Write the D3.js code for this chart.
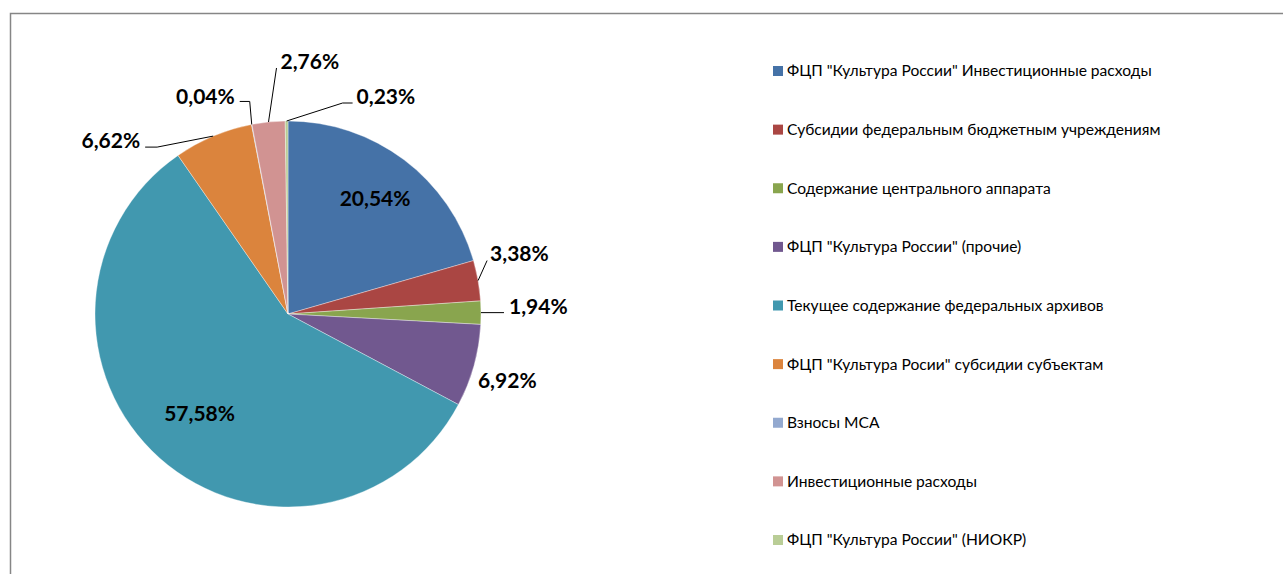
<!DOCTYPE html>
<html>
<head>
<meta charset="utf-8">
<script src="https://cdn.jsdelivr.net/npm/d3@7"></script>
<style>
  body { margin: 0; background: #fff; }
  svg { display: block; }
</style>
</head>
<body>
<div id="chart"></div>
<script>
// Data
const categories = [
  'ФЦП "Культура России" Инвестиционные расходы',
  'Субсидии федеральным бюджетным учреждениям',
  'Содержание центрального аппарата',
  'ФЦП "Культура России" (прочие)',
  'Текущее содержание федеральных архивов',
  'ФЦП "Культура Росии" субсидии субъектам',
  'Взносы МСА',
  'Инвестиционные расходы',
  'ФЦП "Культура России" (НИОКР)'
]
const shares = [20.54, 3.38, 1.94, 6.92, 57.58, 6.62, 0.04, 2.76, 0.23]
const shareLabels = ['20,54%', '3,38%', '1,94%', '6,92%', '57,58%', '6,62%', '0,04%', '2,76%', '0,23%']

const colors = ['#4572A7', '#AA4643', '#89A54E', '#71588F', '#4198AF',
                '#DB843D', '#93A9CF', '#D19392', '#B9CD96']

// label placement: inside (fraction of radius) or outside with a leader
// ex/ey = elbow offset from slice edge, tail = horizontal tail, side = text side
const labelLayout = [
  {type: 'in', r: 0.75},
  {type: 'out', ex: 9, ey: -20, tail: 0, side: 'right', gap: 3, ty: -7},
  {type: 'out', ex: 23, ey: 0, tail: 0, side: 'right', gap: 5, ty: -6},
  {type: 'free', ex: 4, ey: 15, side: 'right'},
  {type: 'in', r: 0.69},
  {type: 'out', ex: -56, ey: 11, tail: -12, side: 'left', gap: 5, ty: -6},
  {type: 'out', ex: -2, ey: -23, tail: -10, side: 'left', gap: 5, ty: -5},
  {type: 'out', ex: 8, ey: -54, tail: 0, side: 'right', gap: 4, ty: -6},
  {type: 'out', ex: 56, ey: -18, tail: 10, side: 'right', gap: 4, ty: -6}
]

const width = 1283, height = 574
const cx = 288, cy = 314, radius = 193
const labelSize = 21

const svg = d3.select('#chart')
  .append('svg')
  .attr('width', width)
  .attr('height', height)

// frame
svg.append('rect')
  .attr('x', 10.5)
  .attr('y', 13.5)
  .attr('width', width)
  .attr('height', height)
  .attr('fill', 'none')
  .attr('stroke', '#868686')
  .attr('stroke-width', 1.5)

const data = shares.map((v, i) => ({name: categories[i], value: v, label: shareLabels[i], i}))

const pie = d3.pie()
  .sort(null)
  .value(d => d.value)

const arc = d3.arc()
  .innerRadius(0)
  .outerRadius(radius)

const arcs = pie(data)

const g = svg.append('g')
  .attr('transform', `translate(${cx}, ${cy})`)

g.selectAll('path')
  .data(arcs)
  .join('path')
  .attr('d', arc)
  .attr('fill', d => colors[d.data.i])
  .attr('stroke', '#ffffff')
  .attr('stroke-opacity', 0.6)
  .attr('stroke-width', 0.6)

// labels
const labelFont = 'Lato, "Open Sans", sans-serif'

function addLabel(x, y, anchor, txt) {
  g.append('text')
    .attr('x', x)
    .attr('y', y)
    .attr('dy', '0.35em')
    .attr('text-anchor', anchor)
    .attr('font-family', labelFont)
    .attr('font-weight', 'bold')
    .attr('font-size', labelSize)
    .attr('fill', '#000')
    .text(txt)
}

arcs.forEach((d, i) => {
  const lay = labelLayout[i]
  const mid = (d.startAngle + d.endAngle) / 2
  const sx = Math.sin(mid), sy = -Math.cos(mid)

  if (lay.type === 'in') {
    addLabel(sx * radius * lay.r, sy * radius * lay.r, 'middle', d.data.label)
    return
  }

  const px = sx * radius, py = sy * radius
  const ex = px + lay.ex, ey = py + lay.ey

  if (lay.type === 'free') {
    addLabel(ex, ey, 'start', d.data.label)
    return
  }

  const tx = ex + lay.tail
  g.append('path')
    .attr('d', d3.line()([[px, py], [ex, ey], [tx, ey]]))
    .attr('fill', 'none')
    .attr('stroke', '#000')
    .attr('stroke-width', 1)

  addLabel(lay.side === 'right' ? tx + lay.gap : tx - lay.gap, ey + lay.ty,
    lay.side === 'right' ? 'start' : 'end', d.data.label)
})

// legend
const legendY = d3.scalePoint()
  .domain(categories)
  .range([71, 540])

const legend = svg.append('g')
  .selectAll('g')
  .data(data)
  .join('g')
  .attr('transform', d => `translate(773, ${legendY(d.name)})`)

legend.append('rect')
  .attr('x', 0)
  .attr('y', -5)
  .attr('width', 10)
  .attr('height', 10)
  .attr('fill', d => colors[d.i])

legend.append('text')
  .attr('x', 14)
  .attr('y', 0)
  .attr('dy', '0.35em')
  .attr('font-family', labelFont)
  .attr('font-size', 15.6)
  .attr('fill', '#000')
  .text(d => d.name)
</script>
</body>
</html>
